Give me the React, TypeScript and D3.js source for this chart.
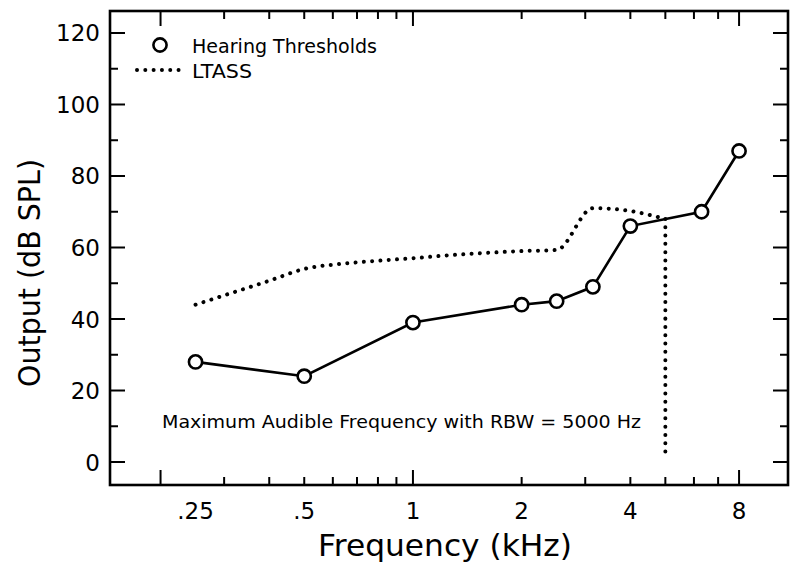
import React from "react";
import * as d3 from "d3";

// ---- data ----
const thresholdFreqs = [0.25, 0.5, 1, 2, 2.5, 3.15, 4, 6.3, 8];
const thresholdLevels = [28, 24, 39, 44, 45, 49, 66, 70, 87];

const ltassFreqs = [0.25, 0.315, 0.4, 0.5, 0.63, 0.8, 1, 1.25, 1.6, 2, 2.5, 3.15, 4, 5];
const ltassLevels = [44, 47.3, 50.7, 54, 55.4, 56.3, 57, 57.8, 58.5, 59, 59.3, 71, 70.2, 68];

const maxAudibleFreq = [5, 5];
const maxAudibleLevels = [68, 2];

const xTickValues = [0.25, 0.5, 1, 2, 4, 8];
const xTickLabels = [".25", ".5", "1", "2", "4", "8"];
const xMajorTicks = [0.2, 1, 8];
const xMinorTicks = [0.3, 0.4, 0.5, 0.6, 0.7, 0.8, 0.9, 2, 3, 4, 5, 6, 7];

const yMajorTicks = [0, 20, 40, 60, 80, 100, 120];
const yMinorTicks = [10, 30, 50, 70, 90, 110];

const legendLabels = ["Hearing Thresholds", "LTASS"];
const annotation = "Maximum Audible Frequency with RBW = 5000 Hz";

// ---- layout ----
const W = 800;
const H = 568;
const L = 110, R = 788, T = 11, B = 485;
const FONT = "'DejaVu Sans', sans-serif";

export default function App() {
  const x = d3.scaleLog().domain([0.1449, 10.93]).range([L, R]);
  const y = d3.scaleLinear().domain([-6.43, 126.15]).range([B, T]);

  const thr = thresholdFreqs.map((f, i) => [f, thresholdLevels[i]] as [number, number]);
  const lt = ltassFreqs.map((f, i) => [f, ltassLevels[i]] as [number, number]);
  const mx = maxAudibleFreq.map((f, i) => [f, maxAudibleLevels[i]] as [number, number]);

  const linePath = d3.line<[number, number]>().x(d => x(d[0])).y(d => y(d[1]));
  const smoothPath = d3
    .line<[number, number]>()
    .x(d => x(d[0]))
    .y(d => y(d[1]))
    .curve(d3.curveMonotoneX);

  const dotted = {
    fill: "none",
    stroke: "#000",
    strokeWidth: 4,
    strokeLinecap: "round" as const,
    strokeDasharray: "0.01 8.3",
  };

  const MAJ = 15, MIN = 8;

  return (
    <svg width={W} height={H} style={{ display: "block", position: "absolute", left: 0, top: 0 }} fontFamily={FONT}>
      <rect x={0} y={0} width={W} height={H} fill="#fff" />

      {/* ticks x (bottom & top) */}
      {xMajorTicks.map(v => (
        <g key={"xM" + v} stroke="#000" strokeWidth={2}>
          <line x1={x(v)} x2={x(v)} y1={B} y2={B - MAJ} />
          <line x1={x(v)} x2={x(v)} y1={T} y2={T + MAJ} />
        </g>
      ))}
      {xMinorTicks.map(v => (
        <g key={"xm" + v} stroke="#000" strokeWidth={2}>
          <line x1={x(v)} x2={x(v)} y1={B} y2={B - MIN} />
          <line x1={x(v)} x2={x(v)} y1={T} y2={T + MIN} />
        </g>
      ))}
      {/* ticks y (left & right) */}
      {yMajorTicks.map(v => (
        <g key={"yM" + v} stroke="#000" strokeWidth={2}>
          <line x1={L} x2={L + MAJ} y1={y(v)} y2={y(v)} />
          <line x1={R} x2={R - MAJ} y1={y(v)} y2={y(v)} />
        </g>
      ))}
      {yMinorTicks.map(v => (
        <g key={"ym" + v} stroke="#000" strokeWidth={2}>
          <line x1={L} x2={L + MIN} y1={y(v)} y2={y(v)} />
          <line x1={R} x2={R - MIN} y1={y(v)} y2={y(v)} />
        </g>
      ))}

      {/* frame */}
      <rect x={L} y={T} width={R - L} height={B - T} fill="none" stroke="#000" strokeWidth={2.6} />

      {/* tick labels */}
      {xTickValues.map((v, i) => (
        <text key={"xl" + v} x={x(v)} y={519} textAnchor="middle" fontSize={23}>
          {xTickLabels[i]}
        </text>
      ))}
      {yMajorTicks.map(v => (
        <text key={"yl" + v} x={100} y={y(v) + 8.5} textAnchor="end" fontSize={23}>
          {v}
        </text>
      ))}

      {/* axis titles */}
      <text x={445} y={556} textAnchor="middle" fontSize={31} textLength={254} lengthAdjust="spacingAndGlyphs">
        Frequency (kHz)
      </text>
      <text
        transform={`translate(40, 273) rotate(-90)`}
        textAnchor="middle"
        fontSize={31}
        textLength={228}
        lengthAdjust="spacingAndGlyphs"
      >
        Output (dB SPL)
      </text>

      {/* LTASS */}
      <path d={smoothPath(lt) || ""} {...dotted} />
      <path d={linePath(mx) || ""} {...dotted} />

      {/* thresholds */}
      <path d={linePath(thr) || ""} fill="none" stroke="#000" strokeWidth={2.6} />
      {thr.map((d, i) => (
        <circle key={"c" + i} cx={x(d[0])} cy={y(d[1])} r={6.6} fill="#fff" stroke="#000" strokeWidth={2.6} />
      ))}

      {/* legend */}
      <circle cx={160} cy={45} r={6.6} fill="#fff" stroke="#000" strokeWidth={2.6} />
      <text x={192} y={52.5} fontSize={19} textLength={185} lengthAdjust="spacingAndGlyphs">
        {legendLabels[0]}
      </text>
      <path d="M137,70 L179,70" {...dotted} />
      <text x={192} y={78} fontSize={19} textLength={60} lengthAdjust="spacingAndGlyphs">
        {legendLabels[1]}
      </text>

      {/* annotation */}
      <text x={162} y={428} fontSize={17.5} textLength={479} lengthAdjust="spacingAndGlyphs">
        {annotation}
      </text>
    </svg>
  );
}
